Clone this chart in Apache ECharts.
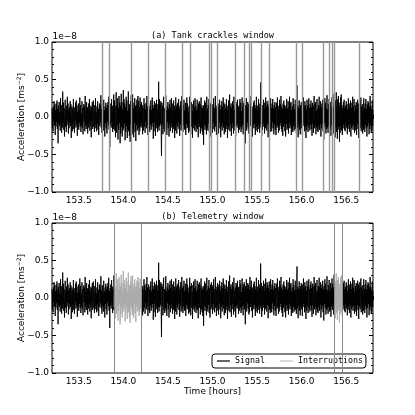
<!DOCTYPE html>
<html>
<head>
<meta charset="utf-8">
<script src="https://cdn.jsdelivr.net/npm/echarts@6/dist/echarts.min.js"></script>
<style>
  html, body { margin: 0; padding: 0; background: #fff; }
  #chart { width: 415px; height: 415px; }
</style>
</head>
<body>
<div id="chart"></div>
<script>
// time span of the record [hours]
const tStart = 153.2
const tEnd = 156.8

// acceleration, in units of 1e-10 m/s^2 (x100 of the 1e-8 axis), evenly spaced in time
const signal = [
  12, -15, 8, -19, 14, -6, 21, -11, 17, -24, 9, -13, 18, -7, 22, -16, 11, -35, 15, -9, 20, -12, 6, -18, 25,
  -10, 16, -21, 7, -14, 34, -8, 19, -17, 12, -26, 5, 23, -13, 9, -20, 15, -11, 27, -6, 18, -22, 10, -15, 13,
  -8, 21, -12, 17, -28, 6, 14, -19, 11, -9, 24, -16, 8, -21, 13, -5, 19, -14, 22, -10, 15, -25, 7, -12, 18,
  -17, 10, -8, 26, -13, 16, -20, 5, -11, 21, -15, 12, -23, 9, 17, -6, 14, -19, 28, -12, 8, -16, 20, -9, 13,
  -22, 11, -14, 18, -7, 24, -18, 9, -12, 15, -27, 13, -5, 20, -16, 10, 22, -13, 7, -20, 16, -10, 25, -15, 6,
  -19, 14, -9, 21, -17, 11, -24, 8, 18, -12, 15, -7, 29, -14, 10, -21, 17, -11, 6, -18, 23, -13, 9, -26, 14,
  -8, 19, -15, 12, -22, 16, -6, 20, -11, 27, -17, 9, -40, 13, -10, 18, -14, 24, -7, 15, -20, 11, -16, 30, -12,
  22, -18, 14, -27, 9, 33, -21, 16, -11, 25, -30, 12, -17, 28, -8, 19, -35, 15, -22, 31, -13, 20, -26, 10, -18,
  36, -15, 24, -9, 18, -31, 13, -20, 27, -12, 22, -28, 8, -16, 34, -19, 11, -25, 17, -33, 21, -10, 29, -14, 15,
  -23, 30, -17, 12, -27, 19, -8, 25, -20, 14, -32, 16, -11, 23, -18, 9, 28, -15, 21, -24, 13, -19, 26, -12, 17,
  -14, 20, -9, 16, -23, 12, -18, 8, 25, -13, 17, -21, 10, -6, 19, -15, 28, -11, 14, -24, 7, 18, -16, 11, -20,
  15, -10, 22, -17, 9, -13, 26, -8, 16, -29, 12, -19, 21, -7, 14, -25, 18, -11, 23, -15, 10, -20, 17, -13, 47,
  -18, 24, -12, 16, -9, 21, -14, -52, 19, -11, 15, -23, 8, 27, -16, 12, -20, 10, -13, 29, -17, 9, -24, 14, -7,
  20, -15, 11, -26, 17, -10, 23, -19, 13, -8, 25, -14, 18, -21, 9, -16, 22, -12, 15, -28, 10, -18, 26, -9, 14,
  -22, 17, -13, 19, -7, 24, -16, 11, -25, 15, -10, 21, -18, 8, 28, -14, 13, -20, 16, -11, 23, -17, 9, -15, 19,
  -24, 12, -9, 26, -15, 18, -12, 7, -21, 14, -19, 27, -10, 16, -23, 11, 20, -13, 8, -28, 17, -15, 22, -9, 13,
  -18, 25, -11, 15, -20, 9, -14, 23, -16, 12, -27, 18, -8, 21, -13, 17, -22, 10, 26, -15, 14, -19, 11, -24, 16,
  -37, 13, -10, 22, -17, 19, -12, 8, -23, 27, -14, 11, -18, 16, -9, 24, -20, 13, -26, 10, 18, -15, 21, -11, 14,
  -21, 17, -8, 25, -16, 12, -19, 9, 28, -13, 15, -24, 11, -10, 20, -17, 14, -22, 18, -7, 23, -15, 10, -27, 16,
  -12, 21, -18, 13, -9, 26, -14, 19, -23, 8, 17, -20, 12, -16, 24, -11, 15, -28, 9, -13, 22, -17, 11, 30, -19,
  14, -10, 18, -25, 12, -15, 21, -8, 16, -22, 27, -12, 9, -18, 14, -26, 20, -11, 17, -14, 23, -9, 13, -21, 15,
  -17, 10, 24, -13, 19, -20, 8, -16, 26, -11, 14, -23, 18, -9, 21, -15, 12, -35, 16, -10, 25, -18, 13, -7, 20,
  -14, 17, -22, 11, -19, 28, -12, 15, -8, 23, -17, 10, -26, 14, -11, 19, -15, 22, -9, 16, -24, 12, -18, 27, -13,
  9, -20, 15, -11, 24, -16, 13, -21, 18, -10, 46, -14, 20, -25, 11, -17, 16, -9, 23, -13, 19, -22, 10, -15, 26,
  -12, 14, -18, 21, -9, 17, -27, 13, -11, 22, -16, 8, -20, 25, -14, 12, -19, 18, -7, 24, -15, 11, -23, 16, -10,
  20, -17, 13, -24, 9, 19, -14, 26, -11, 15, -21, 10, -18, 23, -12, 17, -8, 28, -16, 14, -20, 11, -25, 18, -13,
  22, -10, 16, -19, 12, -26, 15, -9, 24, -17, 11, -14, 21, -22, 13, -8, 27, -15, 18, -11, 20, -24, 9, -16, 14,
  -20, 25, -12, 17, -18, 10, -13, 23, -16, 11, -21, 19, 42, -14, 15, -27, 12, -10, 22, -17, 13, -23, 16, -9, 20,
  -15, 11, -24, 18, -12, 26, -8, 14, -19, 21, -13, 16, -28, 10, -17, 23, -11, 15, -20, 9, 25, -14, 12, -18, 17,
  -10, 22, -16, 13, -25, 19, -9, 15, -21, 12, 28, -15, 17, -11, 20, -23, 8, -14, 24, -18, 11, -20, 16, -12, 27,
  -17, 14, -9, 21, -26, 13, -15, 18, -10, 23, -19, 12, -30, 16, -8, 25, -13, 19, -22, 11, -16, 29, -14, 10, -21,
  17, -12, 24, -18, 9, -15, 20, -25, 13, -11, 26, -16, 19, -9, 14, -22, 31, -18, 12, -27, 22, -14, 33, -20, 15,
  -29, 24, -17, 28, -13, 19, -33, 14, -21, 26, -12, 30, -18, 16, -24, 11, -15, 20, -10, 23, -17, 12, -19, 15, -8,
  21, -14, 17, -23, 10, -16, 25, -11, 13, -20, 18, -9, 22, -26, 12, -15, 19, -12, 27, -17, 14, -10, 24, -21, 8,
  -18, 16, -13, 20, -24, 11, -9, 23, -16, 18, -28, 13, -11, 21, -15, 10, 26, -19, 14, -12, 17, -22, 9, -17, 25,
  -14, 12, -20, 18, -10, 24, -15, 11, -26, 17, -13, 21, -8, 19, -23, 14, -16, 28, -11, 15, -21, 10, -18, 22, -12,
  9
]

// tank crackle glitch times [hours]
const crackles = [
  153.764, 153.843, 154.094, 154.280, 154.475, 154.660, 154.753, 154.961, 154.989, 155.054,
  155.252, 155.357, 155.415, 155.437, 155.553, 155.639, 155.944, 156.015, 156.243, 156.306,
  156.340, 156.368, 156.654
]

// telemetry interruptions [start, end] in hours
const telemetryGaps = [[153.895, 154.198], [156.370, 156.456]]

const xTicks = [153.5, 154.0, 154.5, 155.0, 155.5, 156.0, 156.5]
const yTicks = [-1.0, -0.5, 0.0, 0.5, 1.0]
const panelTitles = ['(a) Tank crackles window', '(b) Telemetry window']

const SANS = 'DejaVu Sans'
const MONO = 'DejaVu Sans Mono'

const n = signal.length
const pts = signal.map((v, i) => [tStart + i * (tEnd - tStart) / (n - 1), v / 100])
const inGap = t => telemetryGaps.some(g => t >= g[0] && t <= g[1])
const outsidePts = pts.map(p => inGap(p[0]) ? [p[0], '-'] : p)
const insidePts = pts.map(p => inGap(p[0]) ? p : [p[0], '-'])

const minorX = []
for (let k = 1532; k <= 1568; k++) minorX.push(k / 10)
const minorY = []
for (let k = -10; k <= 10; k++) minorY.push(k / 10)

const gridTop = [42, 223]

const tickStyle = { color: '#000', width: 1 }

function xAxesFor(p) {
  const base = {
    type: 'value', gridIndex: p, min: tStart, max: tEnd,
    splitLine: { show: false }, axisLine: { show: false }
  }
  const major = { inside: true, length: 4, customValues: xTicks, lineStyle: tickStyle }
  const minor = { inside: true, length: 2, customValues: minorX, lineStyle: tickStyle }
  return [
    {
      ...base, position: 'bottom', axisTick: major,
      axisLabel: {
        customValues: xTicks, formatter: v => v.toFixed(1),
        fontFamily: SANS, fontSize: 9, color: '#000', margin: 4
      },
      name: p === 1 ? 'Time [hours]' : '', nameLocation: 'middle', nameGap: 13,
      nameTextStyle: { fontFamily: SANS, fontSize: 9, color: '#000' }
    },
    { ...base, position: 'bottom', axisTick: minor, axisLabel: { show: false } },
    { ...base, position: 'top', axisTick: major, axisLabel: { show: false } },
    { ...base, position: 'top', axisTick: minor, axisLabel: { show: false } }
  ]
}

function yAxesFor(p) {
  const base = {
    type: 'value', gridIndex: p, min: -1, max: 1,
    splitLine: { show: false }, axisLine: { show: false }
  }
  const major = { inside: true, length: 4, customValues: yTicks, lineStyle: tickStyle }
  const minor = { inside: true, length: 2, customValues: minorY, lineStyle: tickStyle }
  return [
    {
      ...base, position: 'left', axisTick: major,
      axisLabel: {
        customValues: yTicks,
        formatter: v => (v < 0 ? '\u2212' : '') + Math.abs(v).toFixed(1),
        fontFamily: SANS, fontSize: 9, color: '#000', margin: 3
      },
      name: '{n|Acceleration [ms}{s|\u22122}{n|]}', nameLocation: 'middle',
      nameGap: 24, nameMoveOverlap: false,
      nameTextStyle: {
        color: '#000',
        rich: {
          n: { fontFamily: SANS, fontSize: 9, color: '#000', lineHeight: 12 },
          s: { fontFamily: SANS, fontSize: 6, color: '#000', lineHeight: 12, verticalAlign: 'top' }
        }
      }
    },
    { ...base, position: 'left', axisTick: minor, axisLabel: { show: false } },
    { ...base, position: 'right', axisTick: major, axisLabel: { show: false } },
    { ...base, position: 'right', axisTick: minor, axisLabel: { show: false } }
  ]
}

const chart = echarts.init(document.getElementById('chart'))

chart.setOption({
  animation: false,
  backgroundColor: '#fff',
  grid: gridTop.map(top => ({
    left: 52, top: top, width: 321, height: 150,
    show: true, borderColor: '#000', borderWidth: 1, backgroundColor: 'transparent'
  })),
  xAxis: [...xAxesFor(0), ...xAxesFor(1)],
  yAxis: [...yAxesFor(0), ...yAxesFor(1)],
  graphic: [
    ...panelTitles.map((txt, p) => ({
      type: 'text', x: 212.5, y: gridTop[p] - 6.5, silent: true,
      style: { text: txt, font: '8.5px "' + MONO + '"', fill: '#000', align: 'center', verticalAlign: 'middle' }
    })),
    ...gridTop.map(top => ({
      type: 'text', x: 52.5, y: top - 5.5, silent: true,
      style: { text: '1e\u22128', font: '9px "' + SANS + '"', fill: '#000', align: 'left', verticalAlign: 'middle' }
    }))
  ],
  legend: {
    data: [
      { name: 'Signal', icon: 'rect', itemStyle: { color: '#333' } },
      { name: 'Interruptions', icon: 'rect', itemStyle: { color: '#ccc' } }
    ],
    left: 212, top: 354,
    padding: [3, 3, 3, 5],
    itemWidth: 13, itemHeight: 1.5, itemGap: 15,
    borderColor: '#000', borderWidth: 1, borderRadius: 3,
    backgroundColor: '#fff',
    textStyle: { fontFamily: MONO, fontSize: 8.3, color: '#000' }
  },
  series: [
    {
      name: 'Interruptions', type: 'line', xAxisIndex: 0, yAxisIndex: 0,
      data: [], symbol: 'none', z: 1,
      lineStyle: { color: '#999' }, itemStyle: { color: '#999' },
      markLine: {
        silent: true, symbol: 'none', label: { show: false },
        lineStyle: { color: '#999', width: 1.4, type: 'solid' },
        data: crackles.map(t => ({ xAxis: t }))
      }
    },
    {
      name: 'Signal', type: 'line', xAxisIndex: 0, yAxisIndex: 0,
      data: pts, symbol: 'none', z: 2, sampling: null,
      lineStyle: { color: '#000', width: 0.9 }, itemStyle: { color: '#000' }
    },
    {
      name: 'Signal', type: 'line', xAxisIndex: 4, yAxisIndex: 4,
      data: outsidePts, symbol: 'none', z: 2, connectNulls: false,
      lineStyle: { color: '#000', width: 0.9 }, itemStyle: { color: '#000' }
    },
    {
      name: 'Interruptions', type: 'line', xAxisIndex: 4, yAxisIndex: 4,
      data: insidePts, symbol: 'none', z: 2, connectNulls: false,
      lineStyle: { color: '#aaa', width: 0.9 }, itemStyle: { color: '#aaa' },
      markLine: {
        silent: true, symbol: 'none', label: { show: false },
        lineStyle: { color: '#888', width: 1, type: 'solid' },
        data: telemetryGaps.flat().map(t => ({ xAxis: t }))
      }
    }
  ]
})
</script>
</body>
</html>
